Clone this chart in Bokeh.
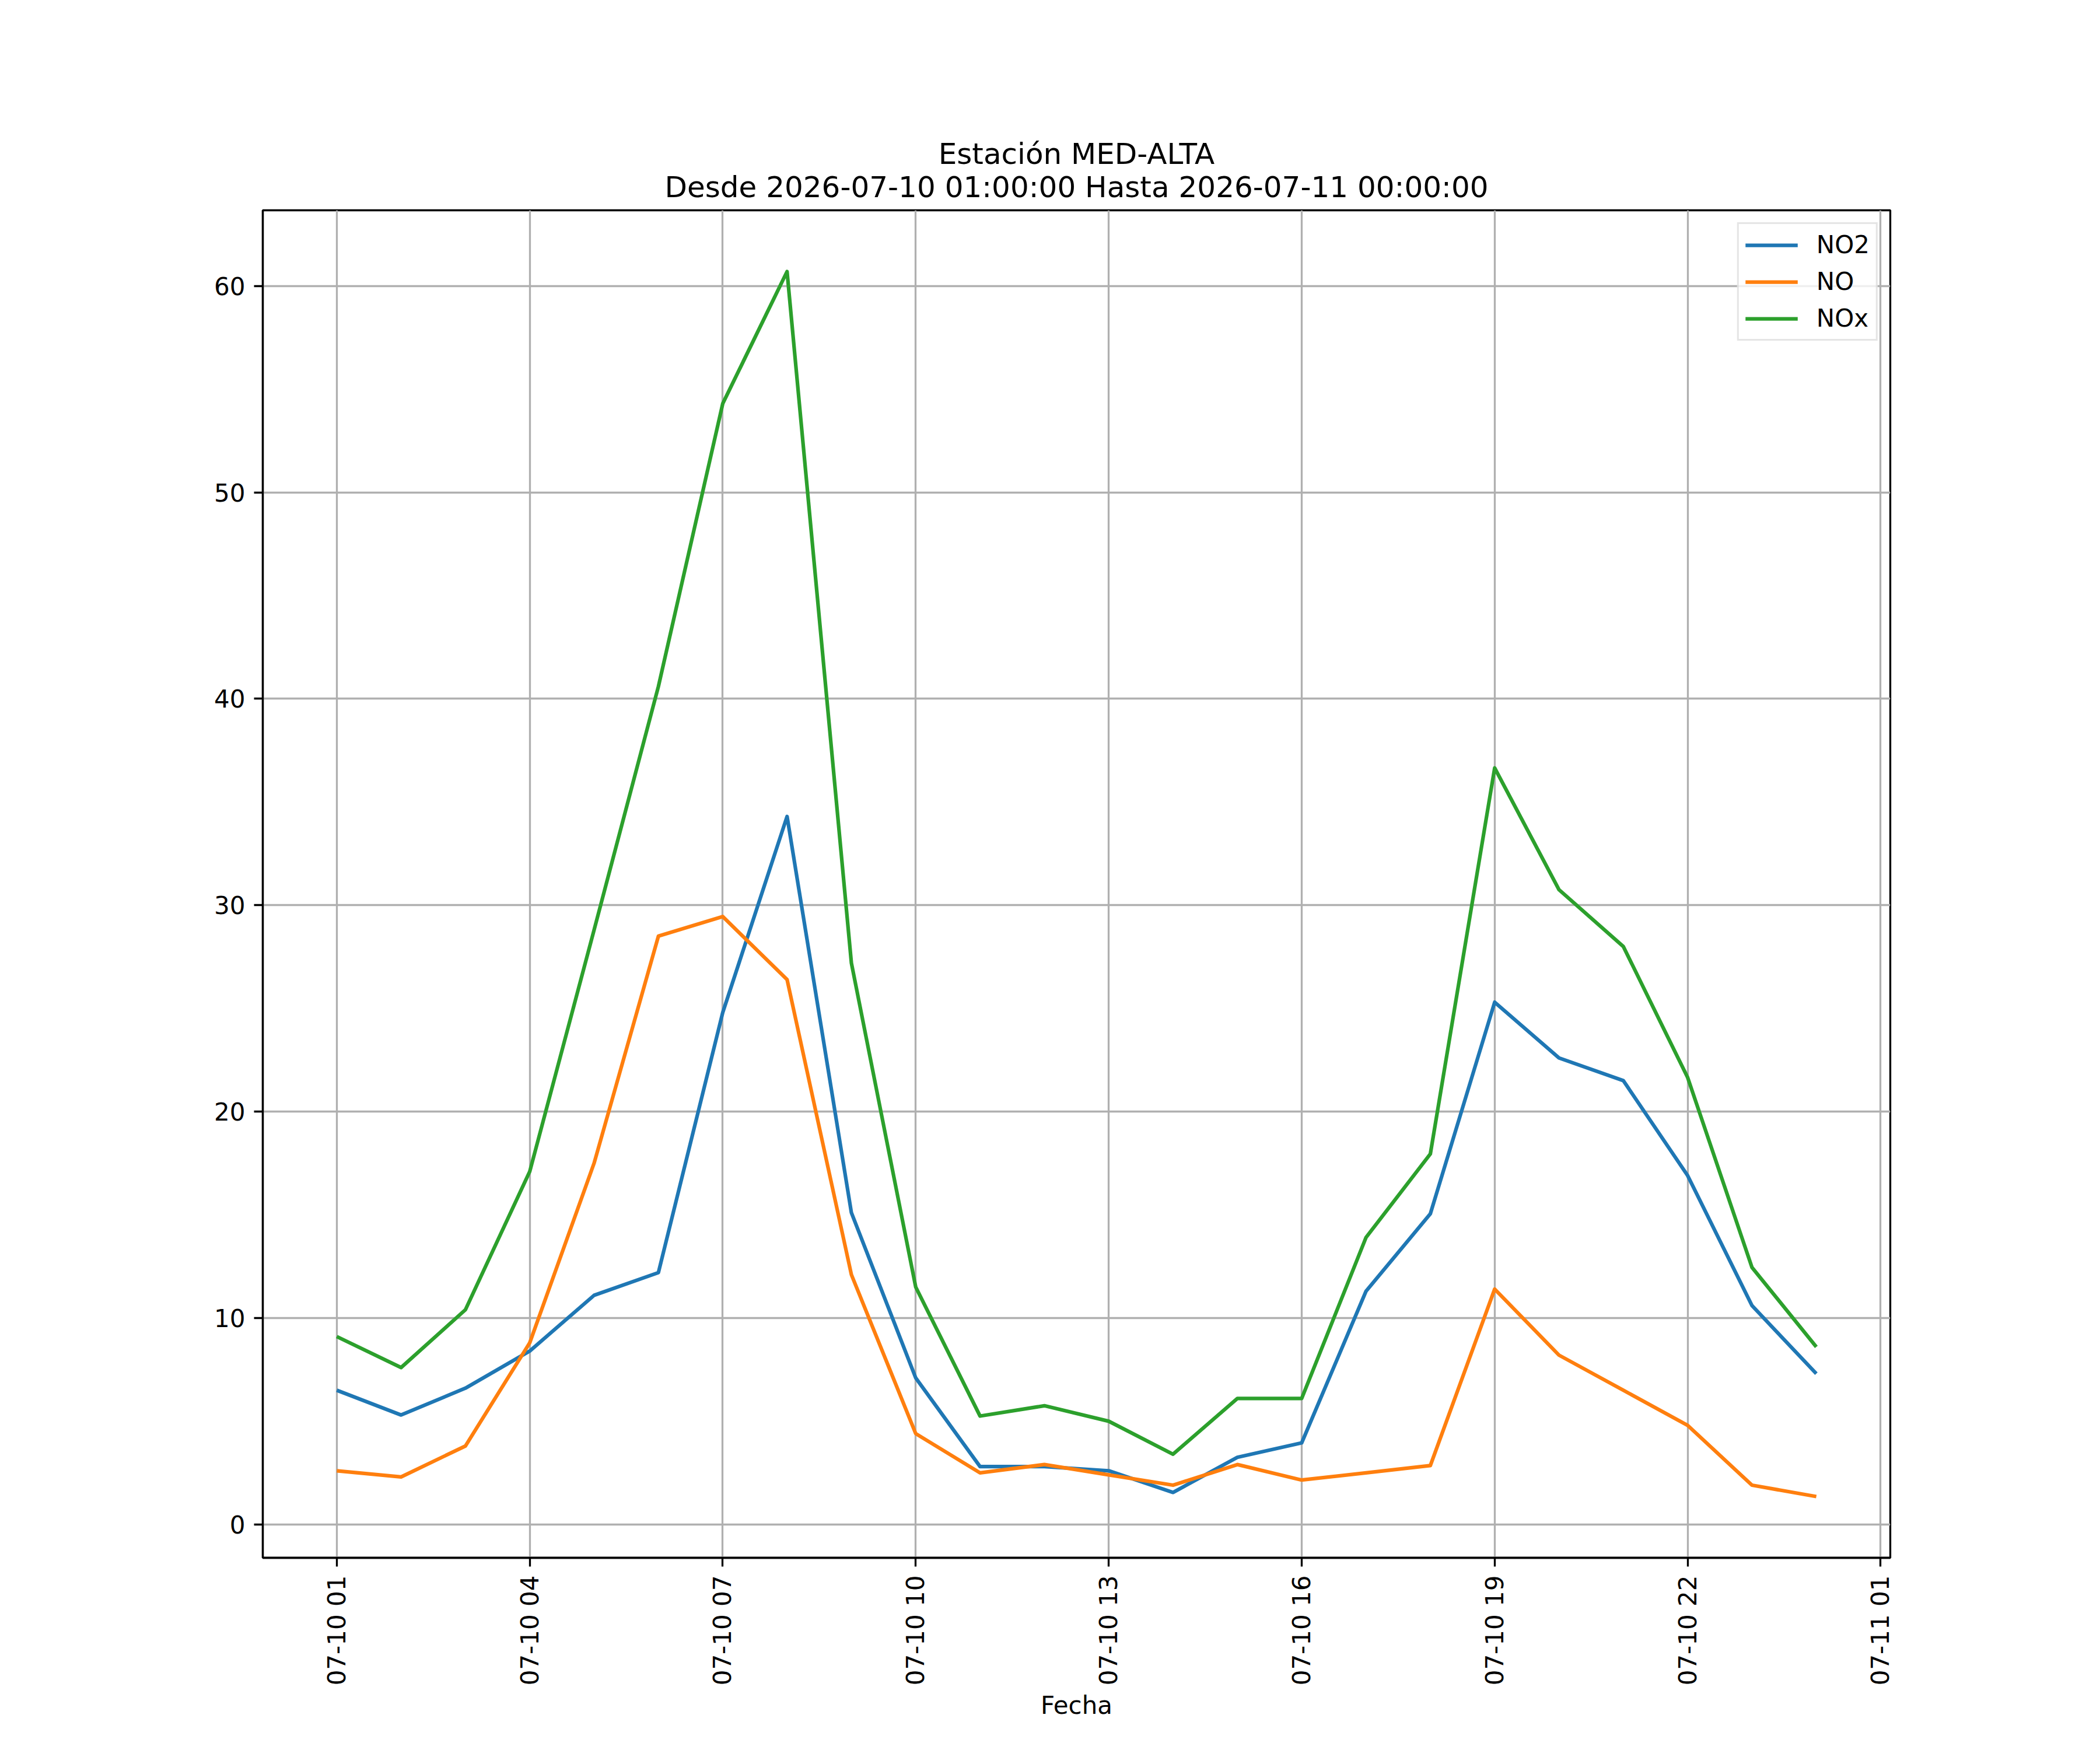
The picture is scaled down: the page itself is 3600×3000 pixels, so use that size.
import math
import pandas as pd
from bokeh.plotting import figure
from bokeh.models import (Range1d, FixedTicker, DatetimeTickFormatter, Legend, LegendItem,
                          Title, ColumnDataSource)
from bokeh.embed import file_html
from bokeh.resources import INLINE

# ---------------- data ----------------
start = "2026-07-10 01:00:00"
n_hours = 24
times = pd.date_range(start, periods=n_hours, freq="h")

no2 = [6.5, 5.3, 6.6, 8.4, 11.1, 12.2, 24.8, 34.3, 15.1, 7.1, 2.8, 2.8,
       2.6, 1.55, 3.25, 3.95, 11.3, 15.05, 25.3, 22.6, 21.5, 16.9, 10.6, 7.3]
no = [2.6, 2.3, 3.8, 8.8, 17.5, 28.5, 29.45, 26.4, 12.1, 4.4, 2.5, 2.9,
      2.4, 1.9, 2.9, 2.15, 2.5, 2.85, 11.4, 8.2, 6.5, 4.8, 1.9, 1.35]
nox = [9.1, 7.6, 10.4, 17.1, 28.8, 40.6, 54.3, 60.7, 27.2, 11.5, 5.25, 5.75,
       5.0, 3.4, 6.1, 6.1, 13.9, 17.95, 36.65, 30.75, 28.0, 21.65, 12.45, 8.6]

series_names = ["NO2", "NO", "NOx"]
series_values = [no2, no, nox]
series_colors = ["#1f77b4", "#ff7f0e", "#2ca02c"]

title_main = "Estación MED-ALTA"
title_sub = "Desde 2026-07-10 01:00:00 Hasta 2026-07-11 00:00:00"
x_label = "Fecha"
y_ticks = [0, 10, 20, 30, 40, 50, 60]
x_tick_times = pd.date_range("2026-07-10 01:00:00", "2026-07-11 01:00:00", freq="3h")

# ---------------- styling ----------------
FONT = "DejaVu Sans"
FS = "42px"
LW = 3.3

# ranges (matplotlib-style 5% margins)
all_vals = no2 + no + nox
vmin, vmax = min(all_vals), max(all_vals)
ypad = (vmax - vmin) * 0.05
t0 = times[0].value / 1e6
t1 = times[-1].value / 1e6
xpad = (t1 - t0) * 0.05

W, H = 3584, 2984
FRAME_L, FRAME_R, FRAME_T, FRAME_B = 450, 3240, 360, 2670
p = figure(width=W, height=H, x_axis_type="datetime",
           output_backend="svg", toolbar_location=None,
           x_range=Range1d(t0 - xpad, t1 + xpad),
           y_range=Range1d(vmin - ypad, vmax + ypad),
           min_border_left=FRAME_L, min_border_right=W - FRAME_R,
           min_border_top=FRAME_T, min_border_bottom=H - FRAME_B)

p.background_fill_color = "white"
p.border_fill_color = "white"
p.outline_line_color = "black"
p.outline_line_width = LW

# titles
p.add_layout(Title(text=title_sub, align="center", text_font=FONT, text_font_size="50px",
                   text_font_style="normal", text_color="black", standoff=21), "above")
p.add_layout(Title(text=title_main, align="center", text_font=FONT, text_font_size="50px",
                   text_font_style="normal", text_color="black", standoff=-26), "above")

# lines
renderers = []
for name, vals, col in zip(series_names, series_values, series_colors):
    src = ColumnDataSource(dict(x=times, y=vals))
    r = p.line("x", "y", source=src, line_color=col, line_width=6.25, line_join="round")
    renderers.append((name, r))

# axes
xa = p.xaxis[0]
xa.ticker = FixedTicker(ticks=[t.value / 1e6 for t in x_tick_times])
fmt = "%m-%d %H"
xa.formatter = DatetimeTickFormatter(hours=fmt, hourmin=fmt, days=fmt, minutes=fmt,
                                     minsec=fmt, seconds=fmt, months=fmt, years=fmt,
                                     strip_leading_zeros=False, boundary_scaling=False,
                                     context=None)
xa.major_label_orientation = math.pi / 2
xa.axis_label = x_label

ya = p.yaxis[0]
ya.ticker = FixedTicker(ticks=y_ticks)

for ax in (xa, ya):
    ax.axis_line_color = "black"
    ax.axis_line_width = LW
    ax.major_tick_line_color = "black"
    ax.major_tick_line_width = LW
    ax.major_tick_out = 15
    ax.major_tick_in = 0
    ax.minor_tick_line_color = None
    ax.major_label_text_font = FONT
    ax.major_label_text_font_size = FS
    ax.major_label_text_color = "black"
    ax.major_label_standoff = 15
    ax.axis_label_text_font = FONT
    ax.axis_label_text_font_size = FS
    ax.axis_label_text_font_style = "normal"
    ax.axis_label_text_color = "black"
xa.axis_label_standoff = 7

for g in (p.xgrid[0], p.ygrid[0]):
    g.grid_line_color = "#b0b0b0"
    g.grid_line_width = LW

legend = Legend(items=[LegendItem(label=n, renderers=[r]) for n, r in renderers],
                location="top_right")
legend.margin = 21
legend.padding = 11
legend.spacing = 14
legend.glyph_width = 90
legend.glyph_height = 42
legend.label_height = 42
legend.label_standoff = 32
legend.label_text_font = FONT
legend.label_text_font_size = FS
legend.label_text_color = "black"
legend.border_line_color = "#cccccc"
legend.border_line_width = 3
legend.background_fill_color = "white"
legend.background_fill_alpha = 0.8
p.add_layout(legend, "center")

open("out.html", "w").write(file_html(p, INLINE))
